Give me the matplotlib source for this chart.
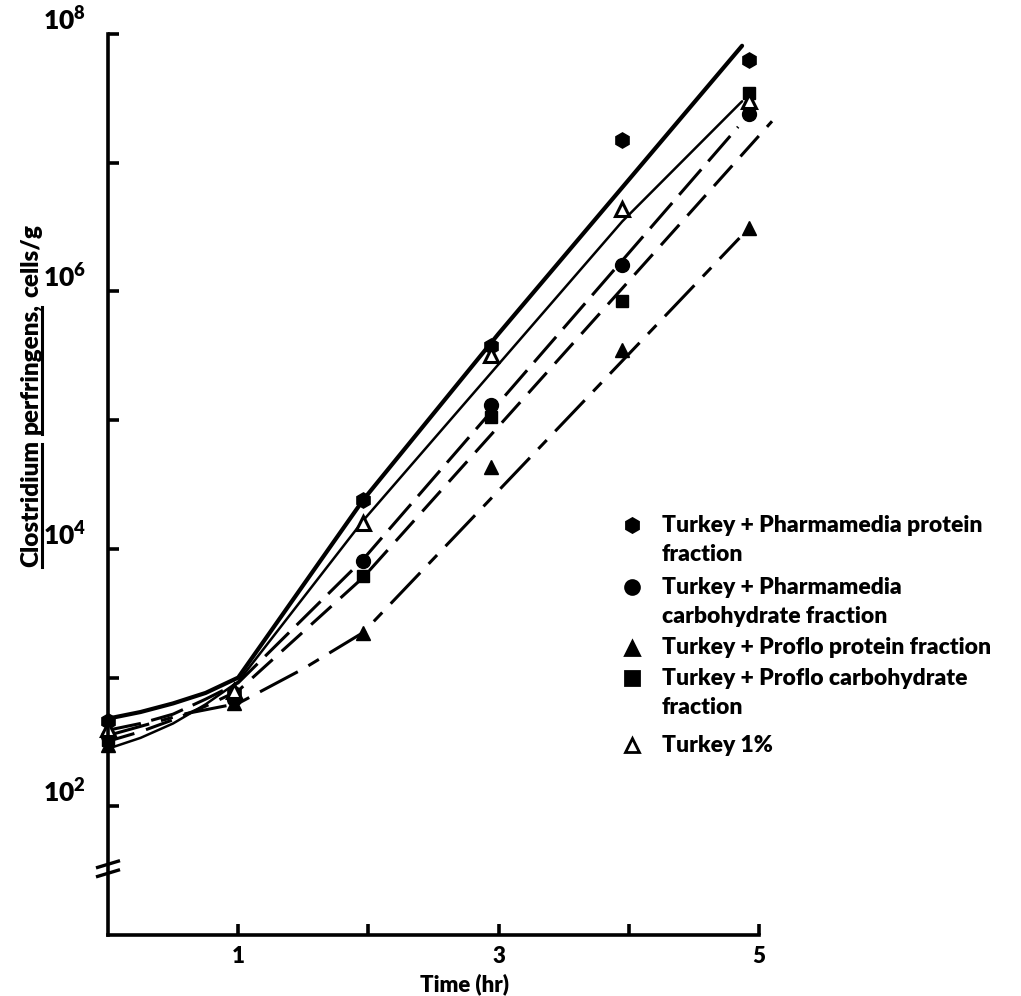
import matplotlib
matplotlib.use('agg')
import matplotlib.pyplot as plt
from matplotlib.lines import Line2D
import numpy as np

plt.rcParams['font.family'] = ['Lato', 'DejaVu Sans']
plt.rcParams['font.weight'] = 'heavy'
plt.rcParams['axes.labelweight'] = 'heavy'
plt.rcParams['mathtext.fontset'] = 'custom'
plt.rcParams['mathtext.rm'] = 'Lato:heavy'
plt.rcParams['mathtext.bf'] = 'Lato:heavy'

# observed counts (cells/g) at each sampling time (hr, as plotted)
times = [0, 0.97, 1.96, 2.94, 3.95, 4.92]
pharm_protein = [4.6e2, 7.6e2, 2.4e4, 3.8e5, 1.5e7, 6.3e7]
pharm_carb = [3.5e2, 6.8e2, 8.1e3, 1.3e5, 1.6e6, 2.4e7]
proflo_protein = [3.0e2, 6.3e2, 2.2e3, 4.3e4, 3.5e5, 3.1e6]
proflo_carb = [3.3e2, 7.1e2, 6.2e3, 1.05e5, 8.5e5, 3.5e7]
turkey = [4.0e2, 7.9e2, 1.6e4, 3.2e5, 4.4e6, 3.0e7]

# hand drawn growth curves
fit_pp_t = [0, 0.25, 0.5, 0.75, 1.0, 1.96, 3.0, 4.87]
fit_pp = [480, 540, 630, 760, 1000, 2.4e4, 4.7e5, 8.1e7]
fit_tk_t = [0, 0.25, 0.5, 0.75, 1.0, 1.96, 3.95, 4.87]
fit_tk = [280, 340, 440, 620, 930, 1.66e4, 3.5e6, 3.0e7]
fit_pc_t = [0, 0.25, 0.5, 0.75, 1.0, 1.96, 4.84]
fit_pc = [390, 440, 520, 680, 910, 8.3e3, 1.9e7]
fit_fc_t = [0, 0.25, 0.5, 0.75, 1.0, 1.96, 5.10]
fit_fc = [320, 380, 470, 600, 790, 6.0e3, 2.1e7]
fit_fp_t = [0, 0.6, 1.0, 1.5, 1.96, 4.85]
fit_fp = [355, 525, 630, 1.17e3, 2.24e3, 2.6e6]

W, H = 1021, 996
fig = plt.figure(figsize=(W / 100, H / 100), dpi=100)
ax = fig.add_axes([108 / W, 1 - 935 / H, (759 - 108) / W, (935 - 34) / H])
ax.set_yscale('log')
ax.set_xlim(0, 5)
ax.set_ylim(10, 1e8)

# curves
ax.plot(fit_pp_t, fit_pp, color='k', lw=3.0, solid_capstyle='round')
ax.plot(fit_tk_t, fit_tk, color='k', lw=1.8, solid_capstyle='round')
ax.plot(fit_pc_t, fit_pc, color='k', lw=2.2, dashes=(11, 3.5))
ax.plot(fit_fc_t, fit_fc, color='k', lw=2.2, dashes=(9, 4), clip_on=False)
ax.plot(fit_fp_t, fit_fp, color='k', lw=2.2, dashes=(14, 4, 4, 4))

# points
ms = 10
ax.plot(times, pharm_protein, 'h', color='k', ms=ms + 1, ls='none', clip_on=False)
ax.plot(times, pharm_carb, 'o', color='k', ms=ms, ls='none', clip_on=False)
ax.plot(times, proflo_protein, '^', color='k', ms=ms, ls='none', clip_on=False)
ax.plot(times, proflo_carb, 's', color='k', ms=ms - 1, ls='none', clip_on=False)
ax.plot(times, turkey, '^', mfc='white', mec='k', mew=2.2, ms=ms, ls='none', clip_on=False)

# axes styling
for s in ['top', 'right']:
    ax.spines[s].set_visible(False)
for s in ['left', 'bottom']:
    ax.spines[s].set_linewidth(2.6)
ax.set_yticks([1e2, 1e3, 1e4, 1e5, 1e6, 1e7, 1e8])
ax.set_yticklabels([r'$10^{2}$', '', r'$10^{4}$', '', r'$10^{6}$', '', r'$10^{8}$'])
ax.yaxis.set_minor_locator(matplotlib.ticker.NullLocator())
ax.set_xticks([1, 2, 3, 4, 5])
ax.set_xticklabels(['1', '', '3', '', '5'])
ax.tick_params(axis='both', direction='in', length=8, width=2.6)
ax.tick_params(axis='y', pad=16, labelsize=19)
ax.tick_params(axis='x', pad=8, labelsize=16)
for lab in ax.get_yticklabels():
    lab.set_va('bottom')
ax.set_xlabel('Time (hr)', fontsize=16)
ax.xaxis.set_label_coords((464 - 108) / 651, -0.042)

# axis break marks
for dy in (-0.006, 0.004):
    ax.plot([-0.016, 0.016], [0.071 + dy, 0.078 + dy], transform=ax.transAxes,
            color='k', lw=2.4, clip_on=False)

# y label with underlined genus/species
fig.canvas.draw()
r = fig.canvas.get_renderer()
y0 = 1 - 567 / H
xl = 31 / W
for word, ul in [('Clostridium', True), ('perfringens,', True), ('cells/g', False)]:
    t = fig.text(xl, y0, word, rotation=90, ha='center', va='bottom', fontsize=17.5)
    bb = t.get_window_extent(r).transformed(fig.transFigure.inverted())
    if ul:
        fig.add_artist(Line2D([bb.x1, bb.x1], [bb.y0, bb.y1 - 4 / H],
                              transform=fig.transFigure, color='k', lw=2.2))
    y0 = bb.y1 + 6 / H

# legend
leg_x, txt_x = 632 / W, 662 / W
entries = [
    ('h', 'k', ['Turkey + Pharmamedia protein', 'fraction'], 525),
    ('o', 'k', ['Turkey + Pharmamedia', 'carbohydrate fraction'], 587),
    ('^', 'k', ['Turkey + Proflo protein fraction'], 648),
    ('s', 'k', ['Turkey + Proflo carbohydrate', 'fraction'], 678),
    ('^', 'white', ['Turkey 1%'], 745),
]
for mk, fc, lines, py in entries:
    fig.add_artist(Line2D([leg_x], [1 - py / H], marker=mk, mfc=fc, mec='k', mew=2,
                          ms=10, transform=fig.transFigure))
    for i, line in enumerate(lines):
        fig.text(txt_x, 1 - (py + i * 29) / H, line, va='center', ha='left', fontsize=16.5)

fig.savefig('out.png', dpi=100)
